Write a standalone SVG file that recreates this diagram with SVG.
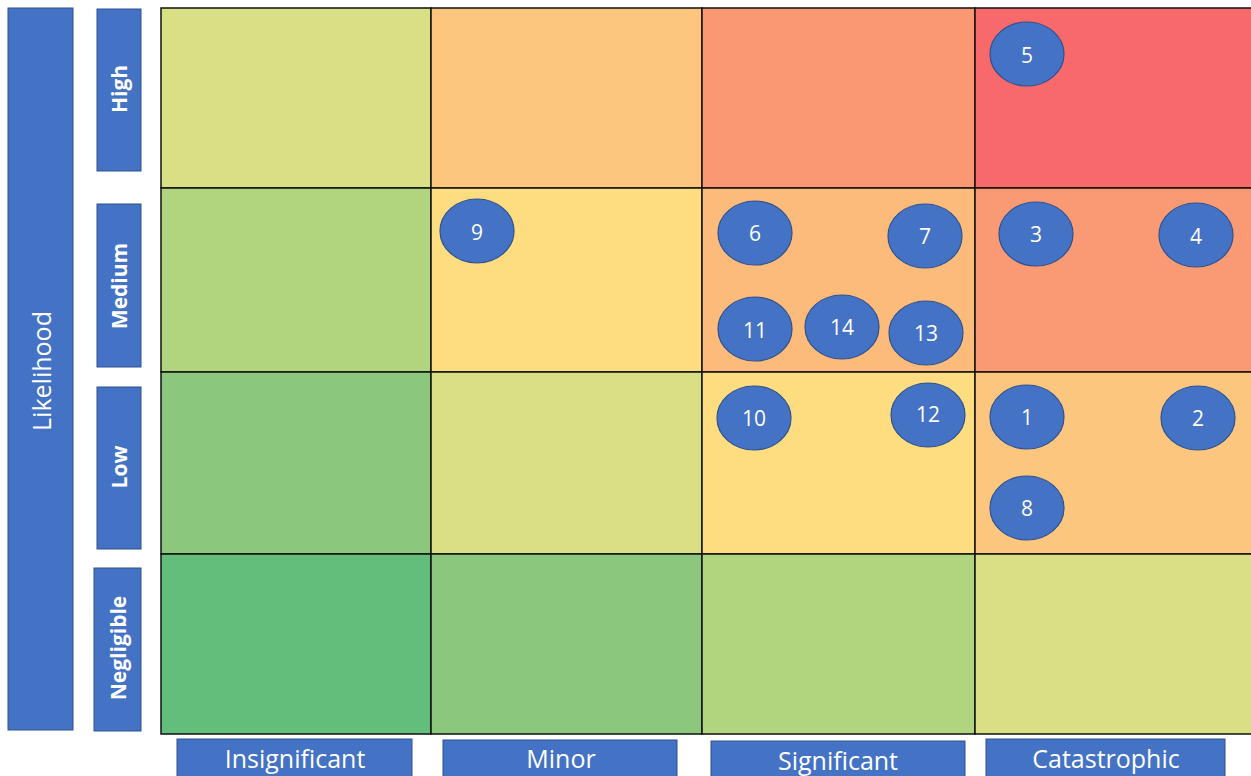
<svg xmlns="http://www.w3.org/2000/svg" width="1251" height="776" viewBox="0 0 1251 776">
<style>
.lbl{fill:#4472C4;stroke:#2F528F;stroke-width:1}
.t{fill:#fff;font-family:"Open Sans","Liberation Sans",sans-serif;text-anchor:middle;dominant-baseline:central}
.rl{font-size:21px;font-weight:bold}
.cl{font-size:25px}
.cell{stroke:#111;stroke-width:1.5}
.dot{fill:#4472C4;stroke:#2F528F;stroke-width:1.2}
.n{font-size:21px}
</style>
<rect width="1251" height="776" fill="#fff"/>
<g id="likelihood">
<rect class="lbl" x="8" y="8" width="65" height="722"/>
<text class="t" style="font-size:25px" transform="translate(41,371) rotate(-90)">Likelihood</text>
</g>
<g id="row-high"><rect class="lbl" x="97" y="9" width="44" height="162"/><text class="t rl" transform="translate(119,89) rotate(-90)">High</text></g>
<g id="row-medium"><rect class="lbl" x="97" y="204" width="44" height="163"/><text class="t rl" transform="translate(119,286) rotate(-90)">Medium</text></g>
<g id="row-low"><rect class="lbl" x="97" y="387" width="44" height="162"/><text class="t rl" transform="translate(119,467) rotate(-90)">Low</text></g>
<g id="row-negligible"><rect class="lbl" x="94" y="568" width="47" height="163"/><text class="t rl" transform="translate(118,648) rotate(-90)">Negligible</text></g>
<g id="grid">
<rect class="cell" x="161" y="8" width="270" height="180" fill="#D9DF84"/>
<rect class="cell" x="431" y="8" width="271" height="180" fill="#FDC67F"/>
<rect class="cell" x="702" y="8" width="273" height="180" fill="#FB9874"/>
<rect class="cell" x="975" y="8" width="278" height="180" fill="#F8696B"/>
<rect class="cell" x="161" y="188" width="270" height="184" fill="#B1D57F"/>
<rect class="cell" x="431" y="188" width="271" height="184" fill="#FEDD81"/>
<rect class="cell" x="702" y="188" width="273" height="184" fill="#FCBB7B"/>
<rect class="cell" x="975" y="188" width="278" height="184" fill="#FA9A74"/>
<rect class="cell" x="161" y="372" width="270" height="182" fill="#8BC87E"/>
<rect class="cell" x="431" y="372" width="271" height="182" fill="#D9DF84"/>
<rect class="cell" x="702" y="372" width="273" height="182" fill="#FEDD81"/>
<rect class="cell" x="975" y="372" width="278" height="182" fill="#FDC67F"/>
<rect class="cell" x="161" y="554" width="270" height="180" fill="#63BE7B"/>
<rect class="cell" x="431" y="554" width="271" height="180" fill="#8BC87E"/>
<rect class="cell" x="702" y="554" width="273" height="180" fill="#B1D57F"/>
<rect class="cell" x="975" y="554" width="278" height="180" fill="#D9DF84"/>
</g>
<g id="col-insignificant"><rect class="lbl" x="177" y="739" width="235" height="40"/><text class="t cl" x="295" y="758">Insignificant</text></g>
<g id="col-minor"><rect class="lbl" x="443" y="740" width="234" height="40"/><text class="t cl" x="561" y="758">Minor</text></g>
<g id="col-significant"><rect class="lbl" x="711" y="741" width="254" height="40"/><text class="t cl" x="838" y="760">Significant</text></g>
<g id="col-catastrophic"><rect class="lbl" x="986" y="739" width="239" height="40"/><text class="t cl" x="1106" y="758">Catastrophic</text></g>
<g id="risk-5"><ellipse class="dot" cx="1027" cy="54" rx="37" ry="32"/><text class="t n" x="1027" y="55">5</text></g>
<g id="risk-9"><ellipse class="dot" cx="477" cy="231" rx="37" ry="32"/><text class="t n" x="477" y="232">9</text></g>
<g id="risk-6"><ellipse class="dot" cx="755" cy="233" rx="37" ry="32"/><text class="t n" x="755" y="233">6</text></g>
<g id="risk-7"><ellipse class="dot" cx="925" cy="236" rx="37" ry="32"/><text class="t n" x="925" y="236">7</text></g>
<g id="risk-3"><ellipse class="dot" cx="1036" cy="234" rx="37" ry="32"/><text class="t n" x="1036" y="234">3</text></g>
<g id="risk-4"><ellipse class="dot" cx="1196" cy="235" rx="37" ry="32"/><text class="t n" x="1196" y="236">4</text></g>
<g id="risk-11"><ellipse class="dot" cx="755" cy="329" rx="37" ry="32"/><text class="t n" x="755" y="330">11</text></g>
<g id="risk-14"><ellipse class="dot" cx="842" cy="327" rx="37" ry="32"/><text class="t n" x="842" y="327">14</text></g>
<g id="risk-13"><ellipse class="dot" cx="926" cy="333" rx="37" ry="32"/><text class="t n" x="926" y="333">13</text></g>
<g id="risk-10"><ellipse class="dot" cx="754" cy="418" rx="37" ry="32"/><text class="t n" x="754" y="418">10</text></g>
<g id="risk-12"><ellipse class="dot" cx="928" cy="415" rx="37" ry="32"/><text class="t n" x="928" y="414">12</text></g>
<g id="risk-1"><ellipse class="dot" cx="1027" cy="417" rx="37" ry="32"/><text class="t n" x="1027" y="417">1</text></g>
<g id="risk-2"><ellipse class="dot" cx="1198" cy="418" rx="37" ry="32"/><text class="t n" x="1198" y="418">2</text></g>
<g id="risk-8"><ellipse class="dot" cx="1027" cy="508" rx="37" ry="32"/><text class="t n" x="1027" y="508">8</text></g>
<g id="connectors"/>
</svg>
